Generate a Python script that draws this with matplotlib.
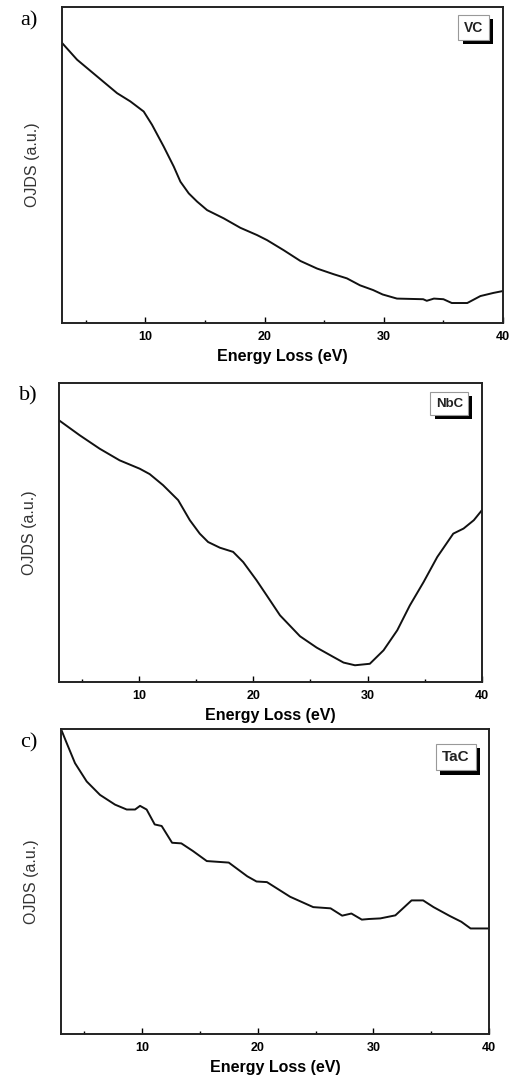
import numpy as np
import matplotlib
matplotlib.use('Agg')
import matplotlib.pyplot as plt
import matplotlib.patheffects as pe

plt.rcParams['font.family'] = ['Liberation Sans', 'DejaVu Sans']

# VC spectrum (energy loss eV, OJDS a.u.)
vc_x = [3.0, 4.26, 5.94, 7.62, 8.73, 9.85, 10.55, 11.53, 12.37, 12.93, 13.63, 14.33, 15.17,
        16.56, 17.96, 19.36, 20.2, 21.6, 23.0, 24.4, 25.8, 26.9, 28.0, 29.1, 29.9, 31.1,
        33.3, 33.6, 34.2, 35.0, 35.7, 37.0, 38.1, 39.2, 40.0]
vc_y = [88.6, 83.3, 78.0, 72.7, 70.1, 66.9, 62.7, 55.8, 49.5, 44.7, 41.0, 38.4, 35.7,
        33.1, 30.1, 27.8, 26.2, 23.0, 19.6, 17.2, 15.4, 14.1, 11.9, 10.4, 9.0, 7.7,
        7.5, 7.0, 7.7, 7.5, 6.3, 6.3, 8.5, 9.5, 10.1]

# NbC spectrum
nbc_x = [3.0, 4.81, 6.56, 8.31, 10.07, 10.94, 12.11, 13.43, 14.45, 15.32, 16.05, 17.08,
         18.24, 19.12, 20.29, 21.17, 22.34, 24.09, 25.55, 27.0, 27.9, 28.9, 30.2, 31.4,
         32.6, 33.7, 34.9, 36.1, 37.5, 38.4, 39.3, 40.0]
nbc_y = [87.5, 82.5, 78.0, 74.1, 71.3, 69.5, 65.8, 60.8, 54.1, 49.6, 46.8, 44.9,
         43.5, 40.1, 34.0, 29.0, 22.3, 15.3, 11.5, 8.4, 6.5, 5.6, 6.1, 10.6,
         17.3, 25.6, 33.4, 41.8, 49.6, 51.3, 54.1, 57.4]

# TaC spectrum
tac_x = [3.0, 3.49, 4.21, 5.22, 6.37, 7.67, 8.68, 9.40, 9.83, 10.4, 11.1, 11.7, 12.6,
         13.4, 14.4, 15.6, 17.5, 19.1, 19.9, 20.8, 22.8, 24.8, 26.3, 27.3, 28.1, 29.0,
         29.6, 30.6, 31.9, 33.3, 34.3, 35.2, 36.6, 37.6, 38.4, 40.0]
tac_y = [100.0, 95.4, 88.8, 82.8, 78.4, 75.2, 73.6, 73.6, 74.8, 73.6, 68.7, 68.2, 62.7,
         62.5, 60.0, 56.7, 56.2, 51.7, 50.0, 49.8, 45.0, 41.6, 41.2, 38.8, 39.5, 37.5,
         37.7, 37.9, 38.9, 43.8, 43.8, 41.6, 38.7, 36.8, 34.6, 34.6]

panels = [
    ('a)', 'VC', vc_x, vc_y, [0.120, 0.701, 0.853, 0.2926], 0.934, 10),
    ('b)', 'NbC', nbc_x, nbc_y, [0.114, 0.3685, 0.818, 0.277], 0.931, 9.5),
    ('c)', 'TaC', tac_x, tac_y, [0.118, 0.0426, 0.828, 0.2824], 0.907, 11),
]

fig = plt.figure(figsize=(5.17, 10.8), dpi=100)

for letter, name, xs, ys, rect, tag_y, tag_fs in panels:
    ax = fig.add_axes(rect)
    ax.plot(xs, ys, color='#111111', lw=1.4)
    ax.set_xlim(3, 40)
    ax.set_ylim(0, 100)
    ax.set_xticks([10, 20, 30, 40])
    ax.set_xticks([5, 15, 25, 35], minor=True)
    ax.set_yticks([])
    ax.tick_params(axis='x', which='major', direction='in', length=4, width=1,
                   labelsize=9, pad=6)
    ax.tick_params(axis='x', which='minor', direction='in', length=2.5, width=1)
    for lab in ax.get_xticklabels():
        lab.set_fontweight('bold')
    for sp in ax.spines.values():
        sp.set_linewidth(1.4)
        sp.set_color('#222222')
    ax.set_xlabel('Energy Loss (eV)', fontsize=11.5, fontweight='bold', labelpad=4)
    ax.set_ylabel('OJDS (a.u.)', fontsize=11.5, color='#333333', labelpad=16)
    ax.text(-0.095, 0.955, letter, transform=ax.transAxes, fontsize=16,
            family='Liberation Serif', va='center', ha='left')
    # name tag with drop shadow
    t = ax.text(0.955, tag_y, name, transform=ax.transAxes, fontsize=tag_fs,
                fontweight='bold', ha='right', va='center', color='#222222',
                bbox=dict(boxstyle='square,pad=0.4', fc='white', ec='#999999', lw=0.8))
    t.get_bbox_patch().set_path_effects([
        pe.SimplePatchShadow(offset=(3, -3), shadow_rgbFace='black', alpha=1.0),
        pe.Normal()])

fig.savefig('out.png', dpi=100)
